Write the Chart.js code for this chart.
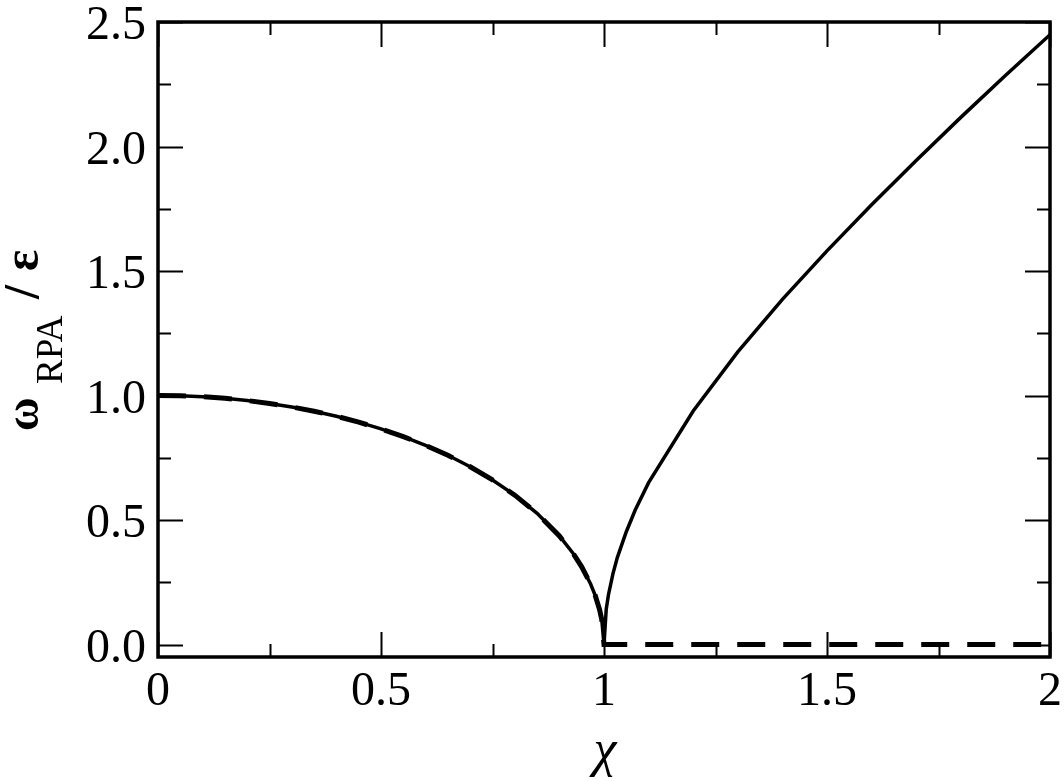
<!DOCTYPE html>
<html>
<head>
<meta charset="utf-8">
<script src="https://cdn.jsdelivr.net/npm/chart.js@4.4.1/dist/chart.umd.min.js"></script>
<style>
  html, body { margin: 0; padding: 0; background: #fff; }
  #wrap { width: 1064px; height: 781px; position: relative; }
</style>
</head>
<body>
<div id="wrap"><canvas id="rpa"></canvas></div>
<script>
// values
const chiBelow = [0, 0.05, 0.1, 0.15, 0.2, 0.25, 0.3, 0.35, 0.4, 0.45, 0.5, 0.55, 0.6, 0.65,
                  0.7, 0.75, 0.8, 0.85, 0.9, 0.93, 0.95, 0.97, 0.98, 0.99, 0.995, 1.0];
const omegaBelow = [1.000, 0.999, 0.995, 0.989, 0.980, 0.968, 0.954, 0.937, 0.917, 0.893, 0.866, 0.835, 0.800, 0.760,
                    0.714, 0.661, 0.600, 0.527, 0.436, 0.368, 0.312, 0.243, 0.199, 0.141, 0.100, 0.000];
const chiAbove = [1.0, 1.005, 1.01, 1.02, 1.03, 1.05, 1.07, 1.1, 1.2, 1.3, 1.4, 1.5, 1.6, 1.7, 1.8, 1.9, 2.0];
const omegaAbove = [0.000, 0.142, 0.200, 0.284, 0.350, 0.453, 0.540, 0.650, 0.938, 1.175, 1.386, 1.581, 1.766, 1.944, 2.117, 2.285, 2.449];
// dashed branch: same curve below 1, zero above
const chiZero = [1.0, 2.0];
const omegaZero = [0.0, 0.0];

const xTicks = [0, 0.5, 1, 1.5, 2];
const xTickLabels = ["0", "0.5", "1", "1.5", "2"];
const xMinor = [0.25, 0.75, 1.25, 1.75];
const yTicks = [0, 0.5, 1, 1.5, 2, 2.5];
const yTickLabels = ["0.0", "0.5", "1.0", "1.5", "2.0", "2.5"];
const yMinor = [0.25, 0.75, 1.25, 1.75, 2.25];

function pts(xs, ys) {
    return xs.map((x, i) => ({ x: x, y: ys[i] }));
}

const solidData = pts(chiBelow, omegaBelow).concat(pts(chiAbove.slice(1), omegaAbove.slice(1)));
const dashedData = pts(chiBelow, omegaBelow).concat(pts(chiZero.slice(1), omegaZero.slice(1)));

const serif = '"Liberation Serif", "Times New Roman", serif';

// frame, inward ticks on all four sides, tick labels and axis titles
const framePlugin = {
    id: "frame",
    afterDatasetsDraw(chart) {
        const ctx = chart.ctx;
        const a = chart.chartArea;
        const xs = chart.scales.x;
        const ys = chart.scales.y;
        ctx.save();
        ctx.strokeStyle = "#000";
        ctx.lineWidth = 2;
        const major = 25, minor = 13;
        ctx.beginPath();
        xTicks.concat(xMinor).forEach(v => {
            const px = Math.round(xs.getPixelForValue(v)) + 0.5;
            const len = xTicks.includes(v) ? major : minor;
            ctx.moveTo(px, a.bottom); ctx.lineTo(px, a.bottom - len);
            ctx.moveTo(px, a.top); ctx.lineTo(px, a.top + len);
        });
        yTicks.concat(yMinor).forEach(v => {
            const py = Math.round(ys.getPixelForValue(v)) + 0.5;
            const len = yTicks.includes(v) ? major : minor;
            ctx.moveTo(a.left, py); ctx.lineTo(a.left + len, py);
            ctx.moveTo(a.right, py); ctx.lineTo(a.right - len, py);
        });
        ctx.stroke();

        ctx.lineWidth = 3.5;
        ctx.strokeRect(a.left, a.top, a.right - a.left, a.bottom - a.top);

        ctx.fillStyle = "#000";
        ctx.font = "48px " + serif;
        ctx.textAlign = "center";
        ctx.textBaseline = "alphabetic";
        xTicks.forEach((v, i) => {
            ctx.fillText(xTickLabels[i], xs.getPixelForValue(v), a.bottom + 48);
        });
        ctx.textAlign = "right";
        yTicks.forEach((v, i) => {
            ctx.fillText(yTickLabels[i], a.left - 12, ys.getPixelForValue(v) + 17);
        });

        // x title
        ctx.textAlign = "center";
        ctx.font = "italic 52px " + serif;
        ctx.fillText("\u03c7", (a.left + a.right) / 2 + 1, 766);

        // y title: omega_RPA / epsilon, rotated
        ctx.translate(38, 431);
        ctx.rotate(-Math.PI / 2);
        ctx.textAlign = "left";
        ctx.font = "bold 46px " + serif;
        ctx.fillText("\u03c9", 0, 0);
        ctx.font = "37px " + serif;
        ctx.fillText("RPA", 47, 24);
        ctx.font = "bold 50px " + serif;
        ctx.fillText("/", 132, 0);
        ctx.fillText("\u03b5", 160, 0);
        ctx.restore();
    }
};

const ctx = document.getElementById("rpa").getContext("2d");

new Chart(ctx, {
    type: "line",
    data: {
        datasets: [
            {
                label: "RPA",
                data: solidData,
                borderColor: "#000",
                borderWidth: 3.5,
                pointRadius: 0,
                tension: 0,
                fill: false,
            },
            {
                label: "RPA (dashed)",
                data: dashedData,
                borderColor: "#000",
                borderWidth: 5,
                borderDash: [28, 18],
                borderCapStyle: "butt",
                pointRadius: 0,
                tension: 0,
                fill: false,
            },
        ],
    },
    options: {
        responsive: true,
        maintainAspectRatio: false,
        animation: false,
        events: [],
        layout: {
            padding: { left: 158, right: 14, top: 22, bottom: 124 },
        },
        plugins: {
            legend: { display: false },
            tooltip: { enabled: false },
        },
        scales: {
            x: {
                type: "linear",
                display: false,
                min: 0,
                max: 2,
            },
            y: {
                type: "linear",
                display: false,
                min: -0.05,
                max: 2.5,
            },
        },
    },
    plugins: [framePlugin],
});
</script>
</body>
</html>
